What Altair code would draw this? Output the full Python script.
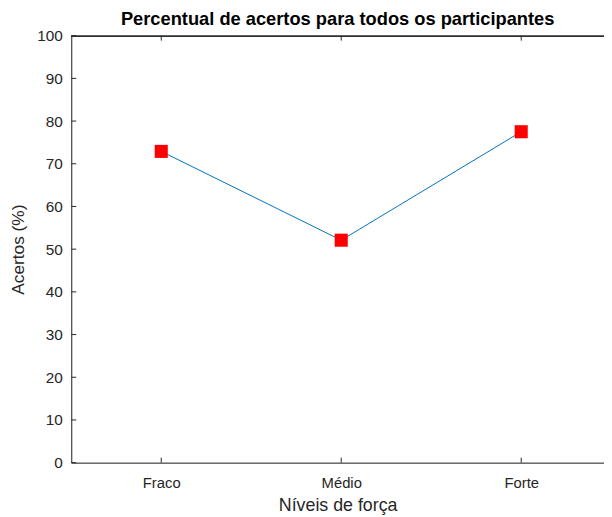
import altair as alt
import pandas as pd

categories = ["Fraco", "Médio", "Forte"]
positions = [1, 2, 3]
acertos = [72.9, 52.1, 77.5]
y_ticks = [0, 10, 20, 30, 40, 50, 60, 70, 80, 90, 100]

df = pd.DataFrame({"pos": positions, "cat": categories, "acertos": acertos})
yt = pd.DataFrame({"v": y_ticks})

W, H = 539, 432
FONT = "Liberation Sans"
AX = "#262626"

xscale = alt.Scale(domain=[0.5, 3.46], nice=False, zero=False)
yscale = alt.Scale(domain=[0, 100], nice=False)

label_expr = "datum.value == 1 ? 'Fraco' : datum.value == 2 ? 'Médio' : datum.value == 3 ? 'Forte' : ''"

x_axis = alt.Axis(values=positions, labelExpr=label_expr, title="Níveis de força",
                  grid=False, ticks=False, domainColor=AX, domainWidth=1,
                  labelFont=FONT, labelFontSize=15, labelColor=AX, labelPadding=13,
                  titleFont=FONT, titleFontSize=18, titleFontWeight="normal",
                  titleColor=AX, titlePadding=6)
y_axis = alt.Axis(values=y_ticks, title="Acertos (%)", grid=False, ticks=False,
                  domainColor=AX, domainWidth=1,
                  labelFont=FONT, labelFontSize=15.5, labelColor=AX, labelPadding=9,
                  titleFont=FONT, titleFontSize=17.5, titleFontWeight="normal",
                  titleColor=AX, titlePadding=9)

line = alt.Chart(df).mark_line(color="#0072BD", strokeWidth=1).encode(
    x=alt.X("pos:Q", scale=xscale, axis=x_axis),
    y=alt.Y("acertos:Q", scale=yscale, axis=y_axis),
)
points = alt.Chart(df).mark_square(color="#FF0000", opacity=1, size=175).encode(
    x=alt.X("pos:Q", scale=xscale),
    y=alt.Y("acertos:Q", scale=yscale),
)

# top border line
top = alt.Chart(df).mark_rule(color=AX, strokeWidth=1).encode(
    x=alt.value(0), x2=alt.value(W), y=alt.value(0.5)
)
# inward ticks on left axis
yticks = alt.Chart(yt).mark_rule(color=AX, strokeWidth=1).encode(
    y=alt.Y("v:Q", scale=yscale), x=alt.value(0), x2=alt.value(5)
)
# inward ticks on bottom and top
xticks_b = alt.Chart(df).mark_rule(color=AX, strokeWidth=1).encode(
    x=alt.X("pos:Q", scale=xscale), y=alt.value(H), y2=alt.value(H - 5)
)
xticks_t = alt.Chart(df).mark_rule(color=AX, strokeWidth=1).encode(
    x=alt.X("pos:Q", scale=xscale), y=alt.value(0), y2=alt.value(5)
)

chart = alt.layer(top, yticks, xticks_b, xticks_t, line, points).properties(
    width=W, height=H,
    title=alt.TitleParams("Percentual de acertos para todos os participantes",
                          font=FONT, fontSize=18.5, fontWeight="bold", color="#000000",
                          anchor="middle", offset=0),
    autosize=alt.AutoSizeParams(type="none"),
    padding={"left": 64, "top": 25, "right": 0, "bottom": 53},
).configure_view(stroke=None).configure(background="white")

chart.save("out.html", embed_options={"renderer": "svg", "actions": False})
